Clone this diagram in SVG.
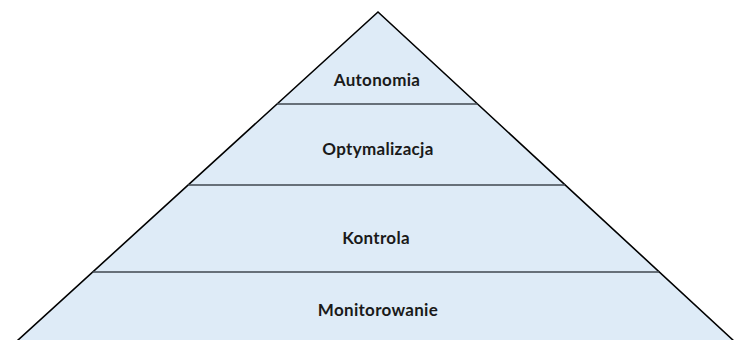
<svg xmlns="http://www.w3.org/2000/svg" width="734" height="340" viewBox="0 0 734 340">
<style>
.t{font-family:Lato,"Liberation Sans",sans-serif;font-weight:bold;font-size:17px;letter-spacing:0.3px;fill:#1a1a1a;text-anchor:middle}
.d{stroke:#3f474f;stroke-width:1.6;fill:none}
</style>
<rect width="734" height="340" fill="#ffffff"/>
<g id="pyramid">
<polygon points="378,12 17,341 734,341" fill="#deebf7" stroke="#000" stroke-width="1.6" stroke-linejoin="miter"/>
</g>
<g id="connectors">
<line class="d" x1="277" y1="104" x2="477.5" y2="104"/>
<line class="d" x1="188" y1="185" x2="565" y2="185"/>
<line class="d" x1="92.5" y1="272" x2="659" y2="272"/>
</g>
<g id="autonomia"><text class="t" x="377" y="86">Autonomia</text></g>
<g id="optymalizacja"><text class="t" x="378" y="155">Optymalizacja</text></g>
<g id="kontrola"><text class="t" x="376" y="244">Kontrola</text></g>
<g id="monitorowanie"><text class="t" x="378" y="316">Monitorowanie</text></g>
</svg>
